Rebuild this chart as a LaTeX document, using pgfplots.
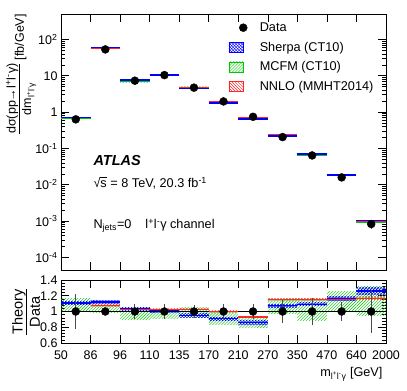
\documentclass[border=0pt]{standalone}
\usepackage{pgfplots}
\pgfplotsset{compat=1.18}
\usepackage{pgfplotstable}
\usepgfplotslibrary{fillbetween}
\usetikzlibrary{patterns}
\usepackage{fontspec}
\setmainfont{Liberation Sans}
\newcommand\tickfont{\fontsize{12.5bp}{14bp}\selectfont}
\newcommand\legfont{\fontsize{12.7bp}{14bp}\selectfont}
\definecolor{rgreen}{RGB}{0,200,0}
\definecolor{rblue}{RGB}{0,0,255}
\definecolor{rred}{RGB}{255,40,40}

\pgfplotstableread{
x data derr
0.5 0.63 0.22
1.5 53 0.05
2.5 7.3 0.10
3.5 10.4 0.09
4.5 4.7 0.08
5.5 1.96 0.09
6.5 0.74 0.09
7.5 0.205 0.15
8.5 0.064 0.17
9.5 0.0159 0.12
10.5 0.00083 0.27
}\datatab

\pgfplotstableread{
x data sh she nn nne mlo mc mhi
0 0.63 1.11 0.02 1.10 0.01 1.00 1.08 1.165
1 53 1.12 0.02 1.075 0.01 0.99 1.06 1.13
2 7.3 1.035 0.02 1.03 0.01 0.90 0.975 1.05
3 10.4 1.01 0.02 1.025 0.01 0.91 0.96 1.01
4 4.7 0.95 0.02 1.03 0.01 0.92 0.985 1.05
5 1.96 0.91 0.02 1.00 0.01 0.83 0.915 1.00
6 0.74 0.86 0.02 0.93 0.01 0.80 0.87 0.94
7 0.205 1.075 0.02 1.15 0.015 0.98 1.07 1.165
8 0.064 1.09 0.02 1.15 0.015 0.88 1.02 1.165
9 0.0159 1.165 0.025 1.15 0.015 1.00 1.13 1.26
10 0.00083 1.26 0.04 1.17 0.02 0.95 1.13 1.32
11 0.00083 1.26 0.04 1.17 0.02 0.95 1.13 1.32
}\thtab

\newcommand\band[4]{%
  \pgfplotsinvokeforeach{0,...,10}{%
    \addplot[pattern=#3, pattern color=#4, draw=none, forget plot]
      fill between[of=#1 and #2, soft clip={domain=##1.004:##1.996}];
  }%
}

\pgfplotsset{
  rootstyle/.style={
    scale only axis, width=325bp, xmin=0, xmax=11,
    xtick={0,...,11},
    tick align=inside, xtick pos=both, ytick pos=both,
    major tick length=8bp, minor tick length=4bp,
    tick style={black, line width=0.5bp},
    axis line style={line width=0.8bp},
    ticklabel style={font=\tickfont},
  },
}

\begin{document}
\begin{tikzpicture}
% ---------------- top panel
\begin{axis}[rootstyle, at={(0,0)}, anchor=south west, height=256bp,
  ymode=log, ymin=4.5e-5, ymax=500,
  xticklabels={},
  ytickten={-4,...,2},
  yticklabels={10\textsuperscript{-4},10\textsuperscript{-3},10\textsuperscript{-2},10\textsuperscript{-1},1,10,10\textsuperscript{2}},
  legend style={draw=none, fill=none, at={(rel axis cs:0.515,0.975)}, anchor=north west,
    inner xsep=0pt, inner ysep=0pt, row sep=5bp, font=\legfont,
    cells={anchor=west},
    nodes={inner xsep=2bp, fill=none, draw=none}},
  legend cell align=left,
]
\addlegendimage{legend image code/.code={\path[draw=none,fill=none] (0bp,-5bp) rectangle (29bp,5bp); \fill[black] (14.5bp,0bp) circle (4bp);}}
\addlegendentry{Data}
\addlegendimage{legend image code/.code={\path[draw=none,fill=none] (0bp,-5bp) rectangle (29bp,5bp);
    \fill[pattern=crosshatch, pattern color=rblue] (0bp,-5bp) rectangle (14bp,5bp);
    \draw[rblue, fill=none] (0bp,-5bp) rectangle (14bp,5bp);}}
\addlegendentry{Sherpa (CT10)}
\addlegendimage{legend image code/.code={\path[draw=none,fill=none] (0bp,-5bp) rectangle (29bp,5bp);
    \fill[pattern=north east lines, pattern color=rgreen] (0bp,-5bp) rectangle (14bp,5bp);
    \draw[rgreen, fill=none] (0bp,-5bp) rectangle (14bp,5bp);}}
\addlegendentry{MCFM (CT10)}
\addlegendimage{legend image code/.code={\path[draw=none,fill=none] (0bp,-5bp) rectangle (29bp,5bp);
    \fill[pattern=north west lines, pattern color=rred] (0bp,-5bp) rectangle (14bp,5bp);
    \draw[rred, fill=none] (0bp,-5bp) rectangle (14bp,5bp);}}
\addlegendentry{NNLO (MMHT2014)}

% MCFM
\addplot[draw=none, forget plot, name path=tmU, const plot mark left] table[x=x, y expr=\thisrow{data}*\thisrow{mhi}] {\thtab};
\addplot[draw=none, forget plot, name path=tmL, const plot mark left] table[x=x, y expr=\thisrow{data}*\thisrow{mlo}] {\thtab};
\band{tmU}{tmL}{north east lines}{rgreen}
\addplot[rgreen, line width=0.8bp, jump mark left, forget plot] table[x=x, y expr=\thisrow{data}*\thisrow{mc}] {\thtab};
% NNLO
\addplot[draw=none, forget plot, name path=tnU, const plot mark left] table[x=x, y expr=\thisrow{data}*(\thisrow{nn}+\thisrow{nne})] {\thtab};
\addplot[draw=none, forget plot, name path=tnL, const plot mark left] table[x=x, y expr=\thisrow{data}*(\thisrow{nn}-\thisrow{nne})] {\thtab};
\band{tnU}{tnL}{north west lines}{rred}
\addplot[rred, line width=1.2bp, jump mark left, forget plot] table[x=x, y expr=\thisrow{data}*\thisrow{nn}] {\thtab};
% Sherpa
\addplot[draw=none, forget plot, name path=tsU, const plot mark left] table[x=x, y expr=\thisrow{data}*(\thisrow{sh}+\thisrow{she})] {\thtab};
\addplot[draw=none, forget plot, name path=tsL, const plot mark left] table[x=x, y expr=\thisrow{data}*(\thisrow{sh}-\thisrow{she})] {\thtab};
\band{tsU}{tsL}{crosshatch}{rblue}
\addplot[rblue, line width=1.4bp, jump mark left, forget plot] table[x=x, y expr=\thisrow{data}*\thisrow{sh}] {\thtab};
% data
\addplot[only marks, mark=*, mark size=4bp, black, forget plot,
  error bars/.cd, y dir=both, y explicit, error mark=none,
  error bar style={line width=0.8bp, black!70}]
  table[x=x, y=data, y error expr=\thisrow{data}*\thisrow{derr}] {\datatab};
\end{axis}

% ---------------- ratio panel
\begin{axis}[rootstyle, at={(0,-10bp)}, anchor=north west, height=63bp,
  ymin=0.6, ymax=1.4,
  xticklabels={50,86,96,110,135,170,210,270,350,470,640,2000},
  xticklabel style={yshift=-4bp},
  ytick={0.6,0.8,1,1.2,1.4},
  yticklabels={0.6,0.8,1,1.2,1.4},
  minor y tick num=4,
]
\addplot[black, line width=0.5bp] coordinates {(0,1) (11,1)};
% MCFM
\addplot[draw=none, forget plot, name path=rmU, const plot mark left] table[x=x, y=mhi] {\thtab};
\addplot[draw=none, forget plot, name path=rmL, const plot mark left] table[x=x, y=mlo] {\thtab};
\band{rmU}{rmL}{north east lines}{rgreen}
% NNLO
\addplot[draw=none, forget plot, name path=rnU, const plot mark left] table[x=x, y expr=\thisrow{nn}+\thisrow{nne}] {\thtab};
\addplot[draw=none, forget plot, name path=rnL, const plot mark left] table[x=x, y expr=\thisrow{nn}-\thisrow{nne}] {\thtab};
\band{rnU}{rnL}{north west lines}{rred}
\addplot[rred, line width=1.2bp, jump mark left] table[x=x, y=nn] {\thtab};
% Sherpa
\addplot[draw=none, forget plot, name path=rsU, const plot mark left] table[x=x, y expr=\thisrow{sh}+\thisrow{she}] {\thtab};
\addplot[draw=none, forget plot, name path=rsL, const plot mark left] table[x=x, y expr=\thisrow{sh}-\thisrow{she}] {\thtab};
\band{rsU}{rsL}{crosshatch}{rblue}
\addplot[rblue, line width=1.4bp, jump mark left] table[x=x, y=sh] {\thtab};
% data
\addplot[only marks, mark=*, mark size=4bp, black,
  error bars/.cd, y dir=both, y explicit, error mark=none,
  error bar style={line width=0.8bp, black!70}]
  table[x=x, y expr=1, y error=derr] {\datatab};
\end{axis}

% ---------------- text
\node[anchor=west, font=\fontsize{14.5bp}{16bp}\selectfont\bfseries\itshape] at (29bp,109bp) {ATLAS};
\node[anchor=west, font=\legfont] at (29bp,87bp) {√\rlap{\rule[9.6bp]{6.5bp}{0.5bp}}s = 8 TeV, 20.3 fb\textsuperscript{-1}};
\node[anchor=west, font=\legfont] at (29bp,44bp) {N\textsubscript{jets}=0\hspace{1.1em}l\textsuperscript{+}l\textsuperscript{-}γ channel};
\node[rotate=90, anchor=east, font=\fontsize{12.5bp}{14bp}\selectfont, inner sep=0pt] at (-40bp,256bp)
  {\begin{tabular}{@{}c@{}}dσ(pp→l\textsuperscript{+}l\textsuperscript{-}γ)\\[-1pt]\hline\rule{0pt}{12bp}dm\textsubscript{l\textsuperscript{+}l\textsuperscript{-}γ}\end{tabular} [fb/GeV]};
\node[rotate=90, font=\fontsize{14.5bp}{16bp}\selectfont, inner sep=0pt] at (-33bp,-42bp)
  {\begin{tabular}{@{}c@{}}Theory\\[-1pt]\hline\rule{0pt}{13bp}Data\end{tabular}};
\node[anchor=east, font=\fontsize{12.7bp}{14bp}\selectfont] at (325bp,-104bp)
  {m\textsubscript{l\textsuperscript{+}l\textsuperscript{-}γ} [GeV]};
\pgfresetboundingbox
\path (-61bp,-121bp) rectangle (346bp,270bp);
\end{tikzpicture}
\end{document}
